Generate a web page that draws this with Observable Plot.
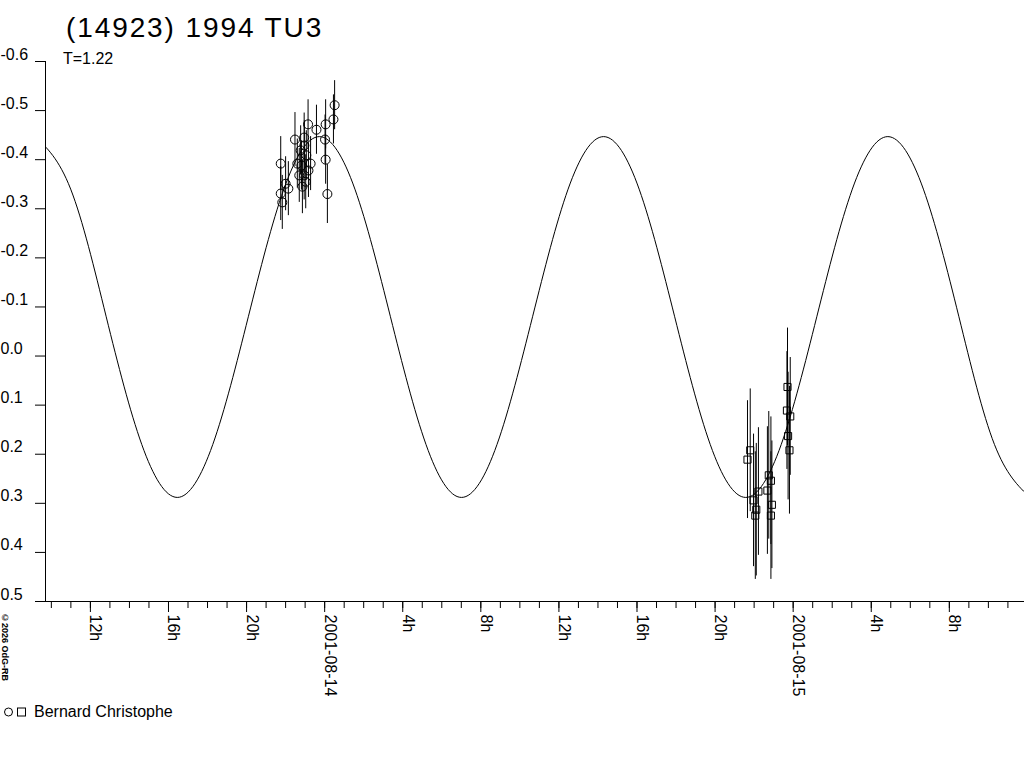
<!DOCTYPE html>
<html>
<head>
<meta charset="utf-8">
<script src="https://cdn.jsdelivr.net/npm/d3@7"></script>
<script src="https://cdn.jsdelivr.net/npm/@observablehq/plot@0.6"></script>
<style>
  html, body { margin: 0; padding: 0; background: #fff; }
  #wrap { position: relative; width: 1024px; height: 768px; overflow: hidden; background: #fff;
          font-family: "Liberation Sans", Arial, sans-serif; color: #000; }
  #chart { position: absolute; left: 0; top: 0; }
  #title { position: absolute; left: 66px; top: 14px; font-size: 28px; line-height: 28px; letter-spacing: 1.9px; white-space: nowrap; }
  #sub { position: absolute; left: 63px; top: 50.5px; font-size: 16px; line-height: 16px; white-space: nowrap; }
  #legend { position: absolute; left: 4px; top: 703.5px; font-size: 16px; line-height: 16px; white-space: nowrap; display: flex; align-items: center; }
  #legend svg { display: block; margin-right: 8px; }
  #copy { position: absolute; left: 0px; top: 613px; font-size: 9px; font-weight: bold; writing-mode: vertical-rl; white-space: nowrap; line-height: 9px; }
</style>
</head>
<body>
<div id="wrap">
  <div id="chart"></div>
  <div id="title">(14923) 1994 TU3</div>
  <div id="sub">T=1.22</div>
  <div id="copy">©2026 OdG-RB</div>
  <div id="legend">
    <svg width="22" height="10" viewBox="0 0 22 10"><circle cx="4.5" cy="5" r="4" fill="none" stroke="#000"/><rect x="13.5" y="1" width="8" height="8" fill="none" stroke="#000"/></svg>
    <span id="legendText"></span>
  </div>
</div>
<script>
// Observer
const observerName = "Bernard Christophe";

// Time axis: hours relative to 2001-08-14 00:00
const xDomain = [-14.3, 35.85];
const yDomain = [-0.6, 0.5];

// Session 1 (circles)
const s1Hours = [0.51, 0.45, 0.05, -0.85, -0.42, 0.02, -1.52, -1.05, 0.05, -0.72, -2.25, -1.40, -1.23,
                 -2.00, -1.86, -2.25, -2.17, 0.14, -1.05, -0.97, -1.14, -0.94, -1.19, -1.04, -1.30, -0.83];
const s1Mag   = [-0.511, -0.482, -0.472, -0.472, -0.461, -0.441, -0.441, -0.445, -0.400, -0.392, -0.392, -0.392, -0.419,
                 -0.351, -0.341, -0.331, -0.313, -0.330, -0.368, -0.355, -0.345, -0.409, -0.388, -0.429, -0.368, -0.378];
const s1Err   = [0.050, 0.050, 0.050, 0.050, 0.050, 0.050, 0.055, 0.050, 0.050, 0.055, 0.055, 0.050, 0.050,
                 0.055, 0.055, 0.055, 0.055, 0.060, 0.050, 0.055, 0.055, 0.050, 0.050, 0.050, 0.055, 0.055];

// Session 2 (squares)
const s2Hours = [23.71, 23.68, 23.85, 23.74, 23.81, 21.80, 21.66, 22.75, 22.86, 22.68, 22.22, 21.97, 22.11, 22.06, 22.91, 22.86];
const s2Mag   = [0.063, 0.111, 0.123, 0.163, 0.192, 0.192, 0.211, 0.243, 0.254, 0.274, 0.276, 0.294, 0.313, 0.325, 0.303, 0.325];
const s2Err   = [0.120, 0.120, 0.120, 0.130, 0.130, 0.125, 0.120, 0.130, 0.130, 0.130, 0.130, 0.135, 0.135, 0.130, 0.130, 0.130];

// Fitted lightcurve
const fitHours = [-14.83, -13.01, -11.19, -9.37, -7.55, -5.73, -3.91, -2.09, -0.27, 1.55, 3.37, 5.19, 7.01, 8.83,
                  10.65, 12.47, 14.29, 16.11, 17.93, 19.75, 21.57, 23.39, 25.21, 27.03, 28.85, 30.67, 32.49, 34.31, 36.13];
const fitMag   = [-0.447, -0.340, -0.080, 0.180, 0.288, 0.180, -0.080, -0.340, -0.447, -0.340, -0.080, 0.180, 0.288, 0.180,
                  -0.080, -0.340, -0.447, -0.340, -0.080, 0.180, 0.288, 0.180, -0.080, -0.340, -0.447, -0.340, -0.080, 0.180, 0.288];

// Ticks
const yTickValues = [-0.6, -0.5, -0.4, -0.3, -0.2, -0.1, 0.0, 0.1, 0.2, 0.3, 0.4, 0.5];
const xMinorTicks = [-14, -13, -12, -11, -10, -9, -8, -7, -6, -5, -4, -3, -2, -1, 0, 1, 2, 3, 4, 5, 6, 7, 8, 9, 10, 11,
                     12, 13, 14, 15, 16, 17, 18, 19, 20, 21, 22, 23, 24, 25, 26, 27, 28, 29, 30, 31, 32, 33, 34, 35];
const xMajorTicks = [-12, -8, -4, 0, 4, 8, 12, 16, 20, 24, 28, 32];
const xMajorLabels = ["12h", "16h", "20h", "2001-08-14", "4h", "8h", "12h", "16h", "20h", "2001-08-15", "4h", "8h"];

const labelMap = new Map(xMajorTicks.map((t, i) => [t, xMajorLabels[i]]));
const s1 = s1Hours.map((h, i) => ({h, m: s1Mag[i], e: s1Err[i]}));
const s2 = s2Hours.map((h, i) => ({h, m: s2Mag[i], e: s2Err[i]}));
const fit = fitHours.map((h, i) => ({h, m: fitMag[i]}));
const obs = s1.concat(s2);

document.getElementById("legendText").textContent = observerName;

const chart = Plot.plot({
  width: 1024,
  height: 700,
  marginLeft: 45,
  marginRight: 0,
  marginTop: 61,
  marginBottom: 99,
  x: {domain: xDomain, axis: null},
  y: {domain: yDomain, reverse: true, axis: null},
  style: {fontFamily: "'Liberation Sans', Arial, sans-serif", fontSize: "16px", color: "#000", background: "transparent", overflow: "visible"},
  marks: [
    Plot.ruleX([xDomain[0]], {y1: yDomain[0], y2: yDomain[1], stroke: "#000"}),
    Plot.ruleY([yDomain[1]], {insetLeft: -9, stroke: "#000"}),
    // y ticks
    Plot.axisY(yTickValues, {tickSize: 10, tickFormat: () => "", label: null, stroke: "#000"}),
    // y labels
    Plot.axisY(yTickValues, {tickSize: 0, tickPadding: 0, tickFormat: d => d.toFixed(1), label: null,
      textAnchor: "start", lineAnchor: "bottom", dx: -45, dy: -2, fontSize: 16}),
    Plot.axisX(xMinorTicks, {tickSize: 7, tickFormat: () => "", label: null, stroke: "#000"}),
    Plot.axisX(xMajorTicks, {tickSize: 11, tickPadding: 2, tickRotate: 90, tickFormat: d => labelMap.get(d), label: null,
      textAnchor: "start", lineAnchor: "bottom", fontSize: 16, stroke: "#000"}),
    Plot.line(fit, {x: "h", y: "m", curve: "natural", clip: true, stroke: "#000", strokeWidth: 1}),
    Plot.ruleX(obs, {x: "h", y1: d => d.m - d.e, y2: d => d.m + d.e, stroke: "#000", strokeWidth: 1}),
    Plot.dot(s1, {x: "h", y: "m", r: 4.5, symbol: "circle", stroke: "#000", fill: "none", strokeWidth: 1}),
    Plot.dot(s2, {x: "h", y: "m", r: 4, symbol: "square", stroke: "#000", fill: "none", strokeWidth: 1})
  ]
});
document.getElementById("chart").appendChild(chart);
</script>
</body>
</html>
